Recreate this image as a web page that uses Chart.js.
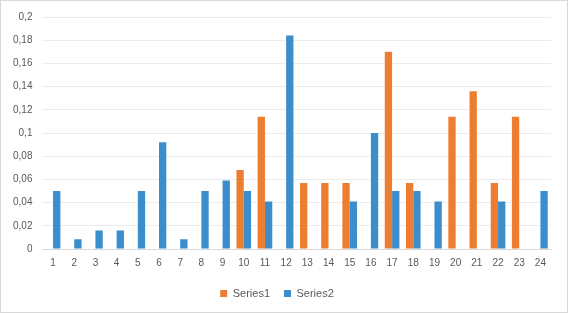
<!DOCTYPE html>
<html>
<head>
<meta charset="utf-8">
<script src="https://cdn.jsdelivr.net/npm/chart.js@4/dist/chart.umd.min.js"></script>
<style>
  html, body { margin: 0; padding: 0; background: #fff; }
  #wrap { position: relative; width: 566px; height: 311px; border: 1px solid #d9d9d9; }
</style>
</head>
<body>
<div id="wrap"><canvas id="chart" width="566" height="311"></canvas></div>
<script>
// ==== DATA ====
const categories = ['1','2','3','4','5','6','7','8','9','10','11','12','13','14','15','16','17','18','19','20','21','22','23','24'];
const series1 = [null, null, null, null, null, null, null, null, null, 0.068, 0.114, null, 0.057, 0.057, 0.057, null, 0.17, 0.057, null, 0.114, 0.136, 0.057, 0.114, null];
const series2 = [0.05, 0.0085, 0.016, 0.016, 0.05, 0.092, 0.0085, 0.05, 0.059, 0.05, 0.041, 0.184, null, null, 0.041, 0.1, 0.05, 0.05, 0.041, null, null, 0.041, null, 0.05];
const yTicks = { min: 0, max: 0.2, step: 0.02 };

const textColor = '#595959';
const fontFamily = '"Liberation Sans", Arial, sans-serif';

const ctx = document.getElementById('chart').getContext('2d');
new Chart(ctx, {
  type: 'bar',
  data: {
    labels: categories,
    datasets: [
      { label: 'Series1', data: series1, backgroundColor: '#ED7D31' },
      { label: 'Series2', data: series2, backgroundColor: '#3C8DCB' }
    ]
  },
  options: {
    responsive: false,
    animation: false,
    layout: { padding: { top: 10, right: 16, bottom: 3, left: 2 } },
    datasets: { bar: { categoryPercentage: 0.69, barPercentage: 1.0 } },
    plugins: {
      legend: {
        position: 'bottom',
        labels: { boxWidth: 7, boxHeight: 7, color: textColor, font: { family: fontFamily, size: 11 }, padding: 14 }
      },
      tooltip: { enabled: false }
    },
    scales: {
      x: {
        grid: { display: false },
        border: { color: '#d9d9d9' },
        ticks: { color: textColor, font: { family: fontFamily, size: 10 }, maxRotation: 0, padding: 0 },
        afterFit: scale => { scale.height += 5; }
      },
      y: {
        min: yTicks.min,
        max: yTicks.max,
        grid: { color: '#ececec', drawTicks: false },
        border: { display: false },
        ticks: {
          stepSize: yTicks.step,
          color: textColor,
          font: { family: fontFamily, size: 10 },
          padding: 10,
          callback: v => parseFloat(v.toFixed(2)).toString().replace('.', ',')
        }
      }
    }
  }
});
</script>
</body>
</html>
